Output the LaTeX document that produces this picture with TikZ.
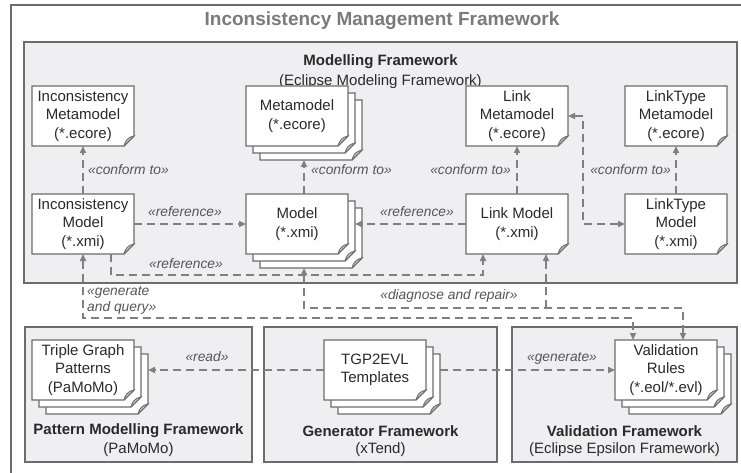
\documentclass[tikz,border=0pt]{standalone}
\usepackage{fontspec}
\setmainfont{Liberation Sans}
\usetikzlibrary{arrows.meta,calc}

\definecolor{framefill}{HTML}{EFEFF1}
\definecolor{lineg}{HTML}{6C6C6C}
\definecolor{conng}{HTML}{808080}
\definecolor{txtg}{HTML}{2A2A2A}
\definecolor{titleg}{HTML}{7A7A7A}
\definecolor{lblg}{HTML}{555555}

\newcommand{\docfont}{\fontsize{15}{18.5}\selectfont}
\newcommand{\lblfont}{\fontsize{13.8}{16}\selectfont\itshape}
\newcommand{\docnode}[3]{%
	\filldraw[docline,shift={(#1)}] (-51,-30) -- (51,-30) -- (51,20) -- (41,30) -- (-51,30) -- cycle;
	\filldraw[docfold,shift={(#1)}] (41,30) -- (51,20) .. controls (45,21) and (42,25) .. (41,30);
	\node[doc] (#2) at (#1) {#3};}
\newcommand{\docstack}[3]{%
	\begin{scope}[shift={(14,14)}]\docnode{#1}{#2-b2}{}\end{scope}
	\begin{scope}[shift={(7,7)}]\docnode{#1}{#2-b1}{}\end{scope}
	\docnode{#1}{#2}{#3}}

\begin{document}
\begin{tikzpicture}[x=1pt, y=-1pt,
	docline/.style={draw=lineg, fill=white, line width=1.3pt},
	docfold/.style={draw=lineg, fill=gray!45, line width=0.9pt},
	doc/.style={minimum width=102pt, minimum height=60pt, inner sep=2pt, outer sep=0pt, align=center, font=\docfont, text=txtg},
	fwbox/.style={draw=lineg, line width=2.4pt, fill=framefill},
	ftitle/.style={font=\fontsize{15}{18}\selectfont\bfseries, text=txtg},
	fsub/.style={font=\fontsize{15}{18}\selectfont, text=txtg},
	conn/.style={draw=conng, line width=1.6pt, dash pattern=on 8pt off 5pt, >={Triangle[length=7pt,width=6pt]}},
	lbl/.style={font=\lblfont, text=lblg, inner sep=1pt}]
	\useasboundingbox (0,0) rectangle (741,473);
	\draw[fwbox, fill=white] (11,5) rectangle (760,495);
	\node[font=\fontsize{19}{22}\selectfont\bfseries, text=titleg] (title) at (382,21) {Inconsistency Management Framework};
	
	\draw[fwbox] (24,42) rectangle (737,283);
	\node[ftitle] (mftitle) at (380.5,62) {Modelling Framework};
	\node[fsub] (mfsub) at (380.5,82) {(Eclipse Modeling Framework)};
	
	\draw[fwbox] (25,327) rectangle (252,462);
	\node[ftitle] (pftitle) at (138.5,431) {Pattern Modelling Framework};
	\node[fsub] (pfsub) at (138.5,450) {(PaMoMo)};
	\draw[fwbox] (264,327) rectangle (497,462);
	\node[ftitle] (gftitle) at (380.5,431) {Generator Framework};
	\node[fsub] (gfsub) at (380.5,450) {(xTend)};
	\draw[fwbox] (512,327) rectangle (737,462);
	\node[ftitle] (vftitle) at (624.5,431) {Validation Framework};
	\node[fsub] (vfsub) at (624.5,450) {(Eclipse Epsilon Framework)};
	
	\docnode{83,116}{incmeta}{Inconsistency\\Metamodel\\(*.ecore)}
	\docstack{297,116}{metamodel}{Metamodel\\(*.ecore)}
	\docnode{517,116}{linkmeta}{Link\\Metamodel\\(*.ecore)}
	\docnode{676,116}{linktypemeta}{LinkType\\Metamodel\\(*.ecore)}
	\docnode{83,224}{incmodel}{Inconsistency\\Model\\(*.xmi)}
	\docstack{297,224}{model}{Model\\(*.xmi)}
	\docnode{517,224}{linkmodel}{Link Model\\(*.xmi)}
	\docnode{676,224}{linktypemodel}{LinkType\\Model\\(*.xmi)}
	\docstack{83,370}{tgpat}{Triple Graph\\Patterns\\(PaMoMo)}
	\docstack{375,370}{tgp}{TGP2EVL\\Templates}
	\docstack{666,370}{valid}{Validation\\Rules\\(*.eol/*.evl)}
	
	\draw[conn,->] (incmodel) -- (incmeta);
	\draw[conn,->] (model-b1.north |- model.north) -- (model-b1.north |- metamodel-b2.south);
	\draw[conn,->] (linkmodel) -- (linkmeta);
	\draw[conn,->] (linktypemodel) -- (linktypemeta);
	\draw[conn,->] (incmodel) -- (model);
	\draw[conn,->] (linkmodel) -- (linkmodel -| model-b1.east);
	\draw[conn,->] ([xshift=28pt]incmodel.south) -- ++(0,21) -| ([xshift=-34pt]linkmodel.south);
	\draw[conn,<->] (incmodel) -- ++(0,94) -| ([xshift=-33pt]valid.north);
	\draw[conn,<->] (model-b1 |- model-b2.south) -- ++(0,40) coordinate (diag) -| ([xshift=17pt]valid.north);
	\draw[conn,->] ($(diag -| linkmodel.south)+(29,0)$) -- ([xshift=29pt]linkmodel.south);
	\draw[conn,<->] (linkmeta) -- ++(66,0) |- (linktypemodel);
	\draw[conn,->] (tgp) -- (tgp -| tgpat-b2.east);
	\draw[conn,->] (tgp-b2.east |- valid) -- (valid);
	
	\node[lbl, anchor=west] (lconf1) at (87,170) {«conform to»};
	\node[lbl, anchor=west] (lconf2) at (310,170) {«conform to»};
	\node[lbl, anchor=east] (lconf3) at (512,170) {«conform to»};
	\node[lbl, anchor=east] (lconf4) at (672,170) {«conform to»};
	\node[lbl] (lref1) at (185,212) {«reference»};
	\node[lbl] (lref2) at (417,212) {«reference»};
	\node[lbl] (lref3) at (186,264) {«reference»};
	\node[lbl, anchor=west, align=left] (lgen) at (86,300) {«generate\\and query»};
	\node[lbl] (ldiag) at (449,296) {«diagnose and repair»};
	\node[lbl] (lread) at (207,357) {«read»};
	\node[lbl] (lgenerate) at (562,358) {«generate»};
\end{tikzpicture}
\end{document}
